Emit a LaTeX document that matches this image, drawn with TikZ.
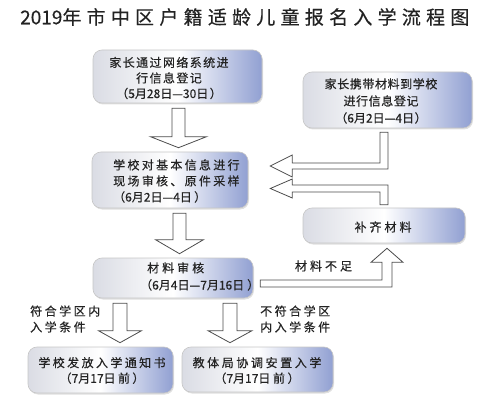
\documentclass[tikz,border=0pt]{standalone}
\usepackage{fontspec}
\setmainfont{Noto Sans CJK SC}[FakeBold=0.35]
\usetikzlibrary{calc,shadows}
\newdimen\cjkgap
\cjkgap=0pt
\count255="4E00
\loop \XeTeXcharclass\count255=1 \advance\count255 by 1 \ifnum\count255<"A000 \repeat
\XeTeXcharclass"3001=3
\XeTeXcharclass"FF08=2
\XeTeXcharclass"FF09=3
\XeTeXinterchartokenstate=1
\XeTeXinterchartoks 1 1 = {\hskip\cjkgap\relax}
\XeTeXinterchartoks 1 3 = {\hskip\cjkgap\relax}
\XeTeXinterchartoks 3 1 = {\hskip\cjkgap\relax}
\definecolor{boxblue}{RGB}{145,160,210}
\definecolor{boxgray}{RGB}{218,220,228}
\definecolor{txtc}{RGB}{35,35,35}
\newcommand\blockdown[6]{%
  \draw[blk] let \p1=(#1.south), \p2=(#2.north) in
    (#3-#4,\y1-5pt) -- (#3+#4,\y1-5pt) -- (#3+#4,\y2+4pt+#6pt) -- (#3+#5,\y2+4pt+#6pt)
    -- (#3,\y2+4pt) -- (#3-#5,\y2+4pt+#6pt) -- (#3-#4,\y2+4pt+#6pt) -- cycle;}
\begin{document}
\begin{tikzpicture}[x=1pt,y=1pt,
  box/.style={rounded corners=9pt, draw=gray!45, line width=0.6pt,
    left color=boxgray, right color=boxblue, middle color=white,
    drop shadow={opacity=0.25, shadow xshift=1pt, shadow yshift=-1.5pt}},
  blk/.style={draw=black!70, fill=white, line width=0.8pt, line join=miter},
  txt/.style={inner sep=0pt, text=txtc, font=\fontsize{12}{15.5}\selectfont},
  gap/.style={execute at begin node={\cjkgap=#1pt}}]
\useasboundingbox (0,0) rectangle (483,400);
\node[txt,gap=5.25,font=\fontsize{19}{22}\selectfont,anchor=west] (title) at (20,383) {2019年市中区户籍适龄儿童报名入学流程图};
% boxes
\node[box,minimum width=169pt,minimum height=53pt] (b1) at (177.5,323.5) {};
\node[box,minimum width=169pt,minimum height=56pt] (b2) at (387.5,300) {};
\node[box,minimum width=156pt,minimum height=56pt] (b3) at (170,220) {};
\node[box,minimum width=162pt,minimum height=35pt] (b4) at (384,174.5) {};
\node[box,minimum width=160pt,minimum height=40pt] (b5) at (173,122) {};
\node[box,minimum width=145pt,minimum height=46pt] (b6) at (100.5,30) {};
\node[box,minimum width=151pt,minimum height=45pt] (b7) at (257.5,30.5) {};
% texts
\node[txt,gap=1.4,align=center] (t1) at (169,322) {家长通过网络系统进\\行信息登记\\（5月28日—30日）};
\node[txt,gap=0.6,align=center,font=\fontsize{12}{17}\selectfont] (t2) at (381,299) {家长携带材料到学校\\进行信息登记\\（6月2日—4日）};
\node[txt,gap=2.3,align=left,anchor=west,font=\fontsize{12}{16}\selectfont] (t3) at (113,219) {学校对基本信息进行\\现场审核、原件采样\\（6月2日—4日）};
\node[txt,gap=3] (t4) at (383,173) {补齐材料};
\node[txt,gap=3,align=left,anchor=west,font=\fontsize{12}{17}\selectfont] (t5) at (140,123.5) {\hspace*{7pt}材料审核\\（6月4日—7月16日）};
\node[txt,gap=2.4,align=center] (t6) at (102,29.5) {学校发放入学通知书\\（7月17日前）};
\node[txt,gap=2.6,align=center] (t7) at (257,29.5) {教体局协调安置入学\\（7月17日前）};
% labels
\node[txt,gap=3] (l1) at (323.5,134) {材料不足};
\node[txt,gap=2.5,align=left,anchor=west,font=\fontsize{12}{16}\selectfont] (l2) at (30,81) {符合学区内\\入学条件};
\node[txt,gap=2.5,align=left,anchor=west,font=\fontsize{12}{16}\selectfont] (l3) at (260,81) {不符合学区\\内入学条件};
% block arrows
\blockdown{b1}{b3}{178.5}{6.5}{28}{11}
\blockdown{b3}{b5}{179.5}{6.5}{24}{14}
\blockdown{b5}{b6}{120}{7}{21.5}{12}
\blockdown{b5}{b7}{230}{7}{22}{12}
\draw[blk] let \p1=(b5.east), \p2=(b4.south) in
  (\x1+7pt,120) -- (382,120) -- (382,\y2-19pt) -- (371,\y2-19pt) -- (387,\y2-5pt)
  -- (403,\y2-19pt) -- (392,\y2-19pt) -- (392,113) -- (\x1+7pt,113) -- cycle;
\draw[blk] let \p1=(b2.south), \p2=(b3.east) in
  (380,\y1-4pt) -- (380,237) -- (\x2+44pt,237) -- (\x2+44pt,245) -- (\x2+22pt,234)
  -- (\x2+44pt,223) -- (\x2+44pt,231) -- (388,231) -- (388,\y1-4pt) -- cycle;
\draw[blk] let \p1=(b4.north), \p2=(b3.east) in
  (388,\y1+3pt) -- (388,215) -- (\x2+44pt,215) -- (\x2+44pt,221) -- (\x2+22pt,211.5)
  -- (\x2+44pt,202) -- (\x2+44pt,208) -- (380,208) -- (380,\y1+3pt) -- cycle;
\end{tikzpicture}
\end{document}
